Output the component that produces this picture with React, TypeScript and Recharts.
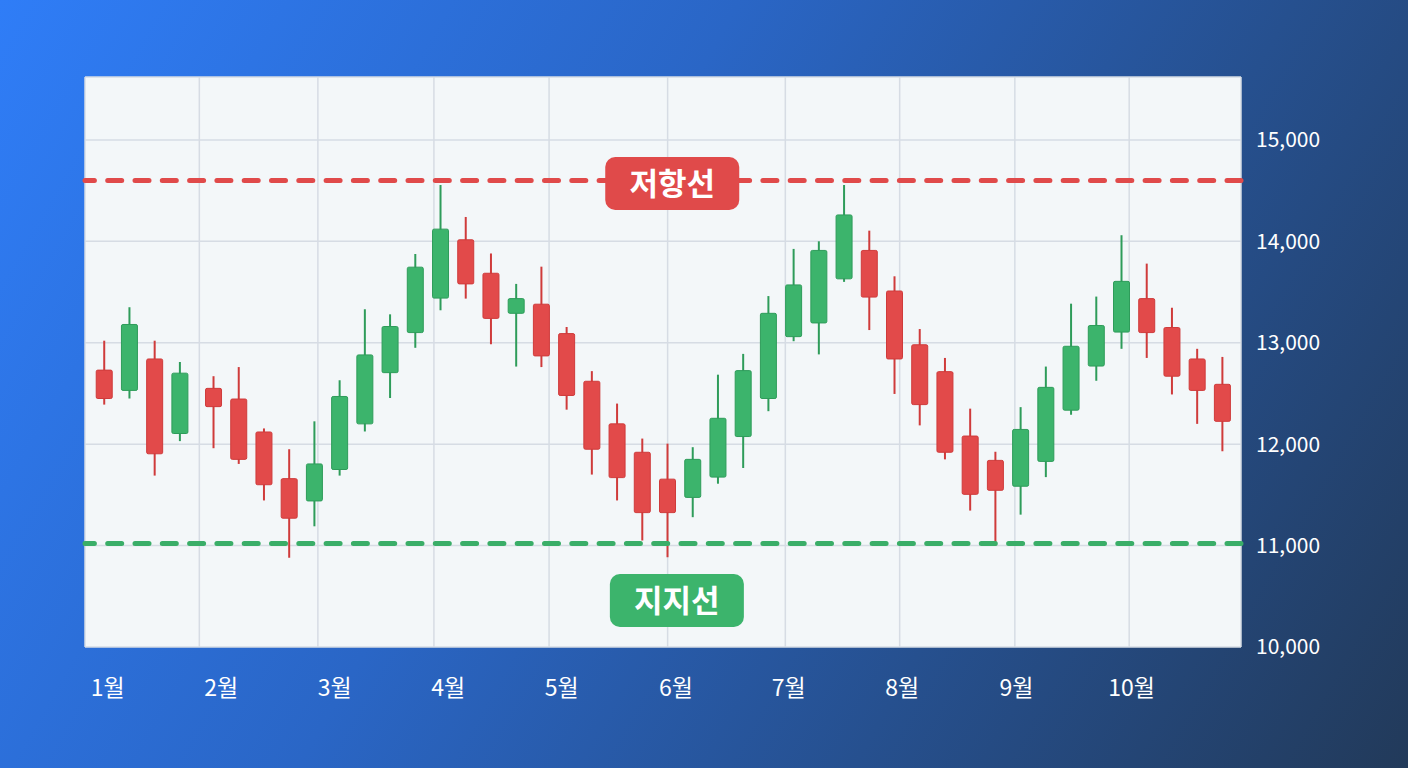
import React from "react";
import { Bar, CartesianGrid, ComposedChart, ReferenceLine, XAxis, YAxis } from "recharts";

// trading day offsets (one gap after the 4th session)
const days = [0, 3, 6, 9, 13, 16, 19, 22, 25, 28, 31, 34, 37, 40, 43, 46, 49, 52, 55, 58, 61, 64, 67, 70, 73, 76, 79, 82, 85, 88, 91, 94, 97, 100, 103, 106, 109, 112, 115, 118, 121, 124, 127, 130, 133];
const opens = [12730, 12530, 12840, 12105, 12550, 12445, 12120, 11660, 11440, 11750, 12200, 12705, 13100, 13440, 14015, 13685, 13290, 13380, 13090, 12620, 12200, 11920, 11655, 11475, 11675, 12075, 12450, 13060, 13195, 13630, 13910, 13510, 12980, 12715, 12080, 11840, 11585, 11830, 12335, 12770, 13105, 13435, 13150, 12840, 12590];
const highs = [13020, 13350, 13020, 12810, 12670, 12760, 12155, 11950, 12225, 12630, 13330, 13280, 13875, 14555, 14240, 13880, 13580, 13750, 13155, 12720, 12400, 12055, 12005, 11970, 12685, 12890, 13460, 13925, 14000, 14555, 14105, 13655, 13135, 12850, 12350, 11925, 12365, 12765, 13385, 13455, 14060, 13780, 13345, 12940, 12860];
const lows = [12390, 12450, 11690, 12030, 11960, 11805, 11445, 10880, 11190, 11690, 12125, 12455, 12950, 13320, 13435, 12985, 12765, 12760, 12340, 11700, 11445, 11050, 10885, 11280, 11610, 11765, 12325, 13015, 12885, 13600, 13125, 12495, 12185, 11850, 11345, 11000, 11305, 11675, 12290, 12625, 12940, 12850, 12490, 12200, 11930];
const closes = [12450, 13180, 11905, 12700, 12370, 11850, 11600, 11270, 11805, 12470, 12880, 13160, 13745, 14120, 13580, 13240, 13435, 12870, 12480, 11950, 11670, 11325, 11325, 11850, 12255, 12725, 13290, 13570, 13910, 14260, 13450, 12840, 12390, 11920, 11505, 11545, 12145, 12560, 12965, 13170, 13605, 13100, 12670, 12530, 12225];

const monthLabels = ["1월", "2월", "3월", "4월", "5월", "6월", "7월", "8월", "9월", "10월"];
const monthLabelDays = [0.4, 13.9, 27.4, 40.9, 54.4, 68, 81.4, 94.9, 108.5, 122.2];
const monthGridDays = [11.3, 25.4, 39.2, 52.9, 67, 81, 94.6, 108.3, 121.9];
const priceTicks = [10000, 11000, 12000, 13000, 14000, 15000];

const resistance = 14600;
const support = 11020;

const RED = "#e24a4a";
const RED_EDGE = "#cf3b3b";
const GREEN = "#3cb46c";
const GREEN_EDGE = "#2e9c5a";

const data = days.map((day, i) => ({
  day,
  open: opens[i],
  high: highs[i],
  low: lows[i],
  close: closes[i]
}));

function Candle(props: any) {
  const { x, y, width, height, payload } = props;
  if (x == null || y == null) return null;
  const top = Math.min(y, y + height);
  const h = Math.abs(height);
  const { open, close, high, low } = payload;
  const toPx = (v: number) => top + ((high - v) / (high - low)) * h;
  const up = close >= open;
  const fill = up ? GREEN : RED;
  const edge = up ? GREEN_EDGE : RED_EDGE;
  const cx = x + width / 2;
  const bodyTop = toPx(Math.max(open, close));
  const bodyBottom = toPx(Math.min(open, close));
  return (
    <g>
      <line x1={cx} x2={cx} y1={top} y2={top + h} stroke={edge} strokeWidth={2} />
      <rect
        x={x + 0.5}
        y={bodyTop}
        width={width - 1}
        height={Math.max(1, bodyBottom - bodyTop)}
        rx={1.5}
        fill={fill}
        stroke={edge}
        strokeWidth={1}
      />
    </g>
  );
}

function Badge(props: any) {
  const { viewBox, text, color, at, offsetY } = props;
  if (!viewBox) return null;
  const cx = viewBox.x + viewBox.width * at;
  const cy = viewBox.y + offsetY;
  const w = 134;
  const h = 53;
  return (
    <g>
      <rect x={cx - w / 2} y={cy - h / 2} width={w} height={h} rx={10} fill={color} />
      <text
        x={cx}
        y={cy}
        dy="0.36em"
        textAnchor="middle"
        fill="#ffffff"
        fontSize={31}
        fontWeight={700}
        fontFamily="'Noto Sans CJK KR', sans-serif"
      >
        {text}
      </text>
    </g>
  );
}

export default function App() {
  return (
    <div
      style={{
        position: "absolute",
        left: 0,
        top: 0,
        width: 1408,
        height: 768,
        background: "linear-gradient(120deg, #2f7df7 0%, #2a66c6 40%, #26508f 70%, #223a5a 100%)",
        fontFamily: "'Noto Sans CJK KR', 'Noto Sans', sans-serif"
      }}
    >
      <ComposedChart width={1408} height={768} data={data} margin={{ top: 77, right: 67, bottom: 61, left: 85 }}>
        <CartesianGrid xAxisId="grid" fill="#f3f7f9" stroke="#d6dce4" strokeWidth={1.5} />
        <XAxis
          xAxisId="days"
          type="number"
          dataKey="day"
          domain={[-2.3, 135.2]}
          ticks={monthLabelDays}
          tickFormatter={(v: number) => monthLabels[monthLabelDays.indexOf(v)] || ""}
          tick={{ fill: "#ffffff", fontSize: 23 }}
          tickSize={0}
          tickMargin={33}
          axisLine={false}
          tickLine={false}
          height={60}
          interval={0}
          allowDataOverflow
        />
        <XAxis xAxisId="grid" type="number" dataKey="day" domain={[-2.3, 135.2]} ticks={monthGridDays} hide allowDataOverflow />
        <YAxis
          orientation="right"
          type="number"
          domain={[10000, 15620]}
          ticks={priceTicks}
          tickFormatter={(v: number) => v.toLocaleString("en-US")}
          tick={{ fill: "#ffffff", fontSize: 21, textAnchor: "start" }}
          tickSize={0}
          tickMargin={15}
          axisLine={false}
          tickLine={false}
          width={100}
          interval={0}
          allowDataOverflow
        />
        <ReferenceLine
          xAxisId="days"
          y={resistance}
          stroke="#e04a4a"
          strokeWidth={5}
          strokeDasharray="14 13.3"
          strokeLinecap="round"
          label={<Badge text="저항선" color="#e04a4a" at={0.508} offsetY={3} />}
        />
        <ReferenceLine
          xAxisId="days"
          y={support}
          stroke="#3aae68"
          strokeWidth={5}
          strokeDasharray="14 13.3"
          strokeLinecap="round"
          label={<Badge text="지지선" color="#3cb46c" at={0.512} offsetY={57} />}
        />
        <Bar
          xAxisId="days"
          dataKey={(d: any) => [d.low, d.high]}
          barSize={17}
          shape={<Candle />}
          isAnimationActive={false}
        />
      </ComposedChart>
    </div>
  );
}
